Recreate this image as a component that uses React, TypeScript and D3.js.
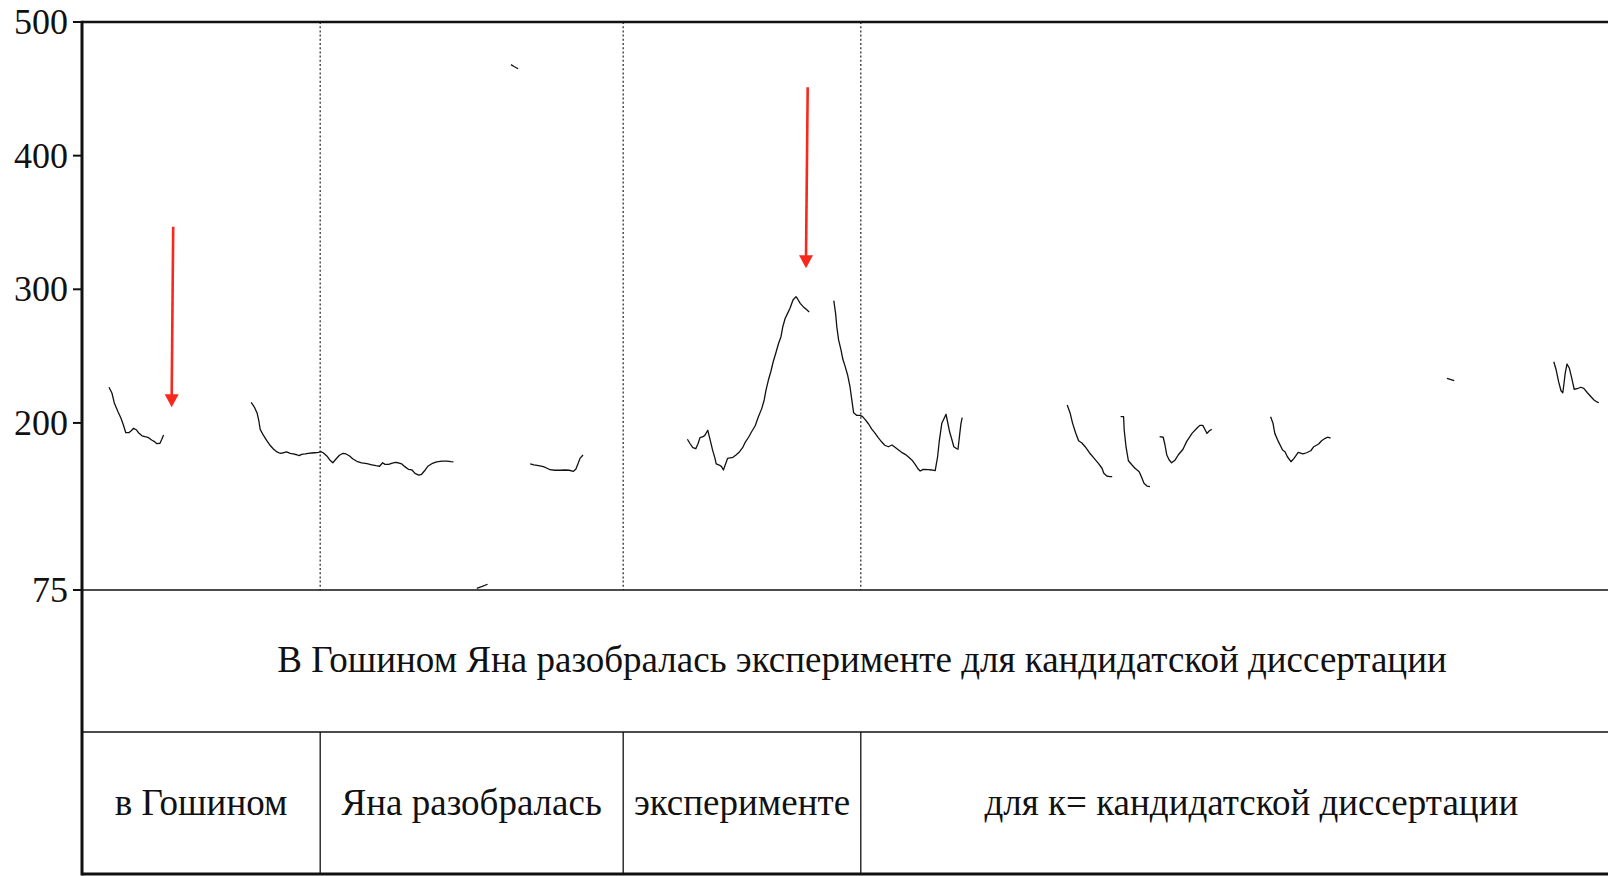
import React from "react";
import * as d3 from "d3";

// ---------- data ----------
const yTicks = [75, 200, 300, 400, 500];
const timeDomain = [0, 2.6]; // seconds
const wordBounds = [0, 0.397, 0.902, 1.298, 2.6];
const words = ["в Гошином", "Яна разобралась", "эксперименте", "для к= кандидатской диссертации"];
const sentence = "В Гошином Яна разобралась эксперименте для кандидатской диссертации";

type P = [number, number];
// pitch contours: [time (s), F0 (Hz)]
const contour1: P[] = [
  [0.045, 226.7], [0.05, 222.2], [0.054, 214.7], [0.06, 208.4], [0.065, 203.5], [0.069, 198.5],
  [0.073, 192.7], [0.078, 192.7], [0.082, 194.2], [0.086, 196.0], [0.091, 194.7], [0.095, 192.2],
  [0.1, 190.4], [0.105, 189.7], [0.111, 189.0], [0.116, 187.2], [0.121, 186.0], [0.125, 184.5],
  [0.13, 184.8], [0.133, 187.8], [0.136, 191.0],
];
const contour2: P[] = [
  [0.282, 215.4], [0.287, 212.1], [0.292, 207.2], [0.295, 200.9], [0.297, 195.2], [0.302, 191.0],
  [0.308, 186.7], [0.313, 183.5], [0.319, 180.5], [0.325, 178.3], [0.33, 177.3], [0.336, 177.7],
  [0.341, 178.3], [0.347, 177.3], [0.352, 176.8], [0.358, 176.2], [0.362, 175.5], [0.366, 176.5],
  [0.372, 176.8], [0.377, 177.3], [0.383, 177.5], [0.388, 177.7], [0.394, 178.0], [0.398, 178.5],
  [0.402, 177.7], [0.408, 175.3], [0.413, 172.3], [0.418, 170.2], [0.423, 172.8], [0.429, 175.8],
  [0.435, 177.3], [0.44, 176.8], [0.446, 175.3], [0.451, 173.2], [0.458, 171.3], [0.466, 170.2],
  [0.475, 169.5], [0.483, 168.7], [0.49, 168.0], [0.496, 167.6], [0.501, 170.2], [0.505, 169.0],
  [0.511, 169.0], [0.516, 169.8], [0.522, 170.5], [0.527, 170.2], [0.533, 169.3], [0.538, 167.3],
  [0.544, 165.3], [0.55, 164.8], [0.555, 162.3], [0.561, 161.0], [0.566, 161.6], [0.572, 164.8],
  [0.577, 167.8], [0.583, 169.5], [0.591, 170.8], [0.6, 171.5], [0.608, 171.5], [0.615, 171.0],
  [0.619, 170.8],
];
const contour3: P[] = [
  [0.658, 76.3], [0.666, 77.5], [0.676, 79.3],
];
const contour4: P[] = [
  [0.715, 468.1], [0.72, 466.7], [0.727, 465.0],
];
const contour5: P[] = [
  [0.747, 169.3], [0.753, 168.7], [0.761, 168.0], [0.769, 167.3], [0.775, 166.1], [0.78, 165.0],
  [0.788, 164.6], [0.797, 164.6], [0.805, 164.8], [0.812, 164.6], [0.819, 163.8], [0.823, 165.3],
  [0.827, 169.8], [0.83, 173.5], [0.835, 176.0],
];
const contour6: P[] = [
  [1.009, 187.8], [1.013, 184.8], [1.018, 181.5], [1.023, 180.7], [1.027, 184.8], [1.03, 189.0],
  [1.035, 189.7], [1.038, 190.7], [1.043, 194.5], [1.047, 187.2], [1.051, 179.7], [1.055, 173.5],
  [1.057, 169.3], [1.062, 168.5], [1.066, 167.3], [1.069, 164.8], [1.072, 168.5], [1.076, 173.5],
  [1.08, 173.8], [1.085, 174.3], [1.09, 176.0], [1.096, 178.5], [1.101, 181.5], [1.105, 185.2],
  [1.111, 189.3], [1.116, 193.4], [1.122, 197.9], [1.127, 204.2], [1.133, 210.9], [1.137, 217.2],
  [1.14, 224.6], [1.144, 232.1], [1.148, 238.3], [1.152, 245.8], [1.157, 253.3], [1.161, 259.6],
  [1.165, 264.5], [1.168, 272.0], [1.172, 278.3], [1.176, 282.0], [1.18, 285.8], [1.185, 292.0],
  [1.19, 294.5], [1.192, 293.3], [1.197, 289.5], [1.202, 287.0], [1.207, 285.0], [1.212, 283.0],
];
const contour7: P[] = [
  [1.253, 291.5], [1.256, 282.0], [1.258, 272.0], [1.261, 262.1], [1.265, 254.6], [1.268, 247.8],
  [1.272, 242.1], [1.276, 235.9], [1.28, 227.1], [1.283, 217.2], [1.286, 207.7], [1.291, 205.7],
  [1.297, 205.7], [1.301, 204.7], [1.305, 202.7], [1.311, 199.2], [1.316, 195.5], [1.322, 192.2],
  [1.327, 189.0], [1.333, 185.7], [1.338, 183.3], [1.344, 182.2], [1.35, 183.5], [1.355, 181.8],
  [1.361, 179.7], [1.366, 178.0], [1.372, 176.5], [1.377, 174.7], [1.383, 172.3], [1.388, 169.3],
  [1.394, 165.3], [1.397, 164.0], [1.402, 165.3], [1.411, 165.0], [1.416, 164.8], [1.422, 164.3],
  [1.426, 174.7], [1.429, 187.2], [1.433, 199.7], [1.437, 203.5], [1.44, 206.5], [1.442, 202.2],
  [1.446, 193.4], [1.45, 187.2], [1.453, 182.2], [1.458, 180.7], [1.46, 180.3], [1.463, 192.2],
  [1.465, 199.7], [1.467, 203.9],
];
const contour8: P[] = [
  [1.642, 213.4], [1.647, 207.2], [1.651, 199.7], [1.656, 192.7], [1.661, 186.7], [1.666, 185.2],
  [1.672, 182.2], [1.679, 177.7], [1.687, 173.5], [1.694, 169.8], [1.7, 166.1], [1.703, 162.3],
  [1.708, 160.3], [1.713, 159.8], [1.717, 159.8],
];
const contour9: P[] = [
  [1.731, 204.7], [1.736, 204.7], [1.737, 194.7], [1.74, 182.2], [1.744, 171.7], [1.75, 168.5],
  [1.755, 166.1], [1.762, 163.5], [1.766, 159.3], [1.77, 154.8], [1.775, 152.8], [1.78, 152.3],
];
const contour10: P[] = [
  [1.796, 189.7], [1.802, 189.3], [1.805, 183.5], [1.808, 176.0], [1.812, 172.3], [1.816, 170.2],
  [1.822, 172.3], [1.827, 176.0], [1.835, 180.3], [1.841, 186.0], [1.85, 192.2], [1.858, 196.0],
  [1.863, 198.2], [1.868, 198.2], [1.872, 194.7], [1.875, 192.2], [1.879, 194.2], [1.883, 195.2],
];
const contour11: P[] = [
  [1.981, 204.7], [1.985, 199.7], [1.988, 192.2], [1.994, 186.0], [2.001, 179.7], [2.005, 178.5],
  [2.009, 174.7], [2.015, 171.0], [2.02, 173.5], [2.027, 178.0], [2.035, 176.8], [2.041, 177.7],
  [2.048, 179.2], [2.053, 182.2], [2.061, 184.2], [2.066, 186.7], [2.072, 188.5], [2.076, 189.3],
  [2.081, 188.7],
];
const contour12: P[] = [
  [2.275, 233.4], [2.287, 231.6],
];
const contour13: P[] = [
  [2.453, 245.8], [2.457, 239.6], [2.461, 230.9], [2.465, 224.1], [2.468, 222.6], [2.47, 229.7],
  [2.472, 237.1], [2.475, 244.1], [2.479, 240.9], [2.483, 233.4], [2.487, 225.2], [2.492, 225.6],
  [2.498, 226.7], [2.503, 225.9], [2.509, 222.6], [2.515, 219.6], [2.52, 217.2], [2.525, 215.7],
  [2.528, 215.1],
];
const contours = [
  contour1, contour2, contour3, contour4, contour5, contour6, contour7,
  contour8, contour9, contour10, contour11, contour12, contour13,
];

// red arrows: [t start, Hz start], [t tip, Hz tip]
const arrowStarts: P[] = [[0.152, 346.8], [1.2095, 451.1]];
const arrowTips: P[] = [[0.1495, 211.7], [1.2067, 315.7]];

// ---------- layout ----------
const W = 1608;
const H = 876;
const left = 82;
const top = 22;
const plotBottom = 590;
const tierH = 142;
const FONT = "'Liberation Serif', 'Times New Roman', Times, serif";
const RED = "#f8281c";

export default function App() {
  const x = d3.scaleLinear().domain(timeDomain).range([left, left + 1560]);
  const y = d3.scaleLinear().domain([75, 500]).range([plotBottom, top]);
  const line = d3
    .line<P>()
    .x((d) => x(d[0]))
    .y((d) => y(d[1]));

  const x0 = x(timeDomain[0]);
  const x1 = x(timeDomain[1]);
  const tier1Top = y(75);
  const tier2Top = tier1Top + tierH;
  const tier2Bottom = tier2Top + tierH;

  return (
    <svg
      width={W}
      height={H}
      style={{ position: "absolute", left: 0, top: 0, display: "block", background: "#fff" }}
      fontFamily={FONT}
    >
      <rect x={0} y={0} width={W} height={H} fill="#fff" />

      {/* dotted word boundaries in the pitch area */}
      {wordBounds.slice(1, -1).map((b, i) => (
        <line
          key={"d" + i}
          x1={x(b)}
          x2={x(b)}
          y1={y(500)}
          y2={y(75)}
          stroke="#333"
          strokeWidth={1.3}
          strokeDasharray="2 2.2"
        />
      ))}

      {/* pitch contours */}
      {contours.map((c, i) => (
        <path key={"c" + i} d={line(c) || ""} fill="none" stroke="#111" strokeWidth={1.3} strokeLinejoin="round" />
      ))}

      {/* red arrows */}
      {arrowStarts.map((s, i) => {
        const sx = x(s[0]);
        const sy = y(s[1]);
        const tx = x(arrowTips[i][0]);
        const ty = y(arrowTips[i][1]);
        const headH = 13;
        const headW = 7;
        return (
          <g key={"a" + i}>
            <line x1={sx} y1={sy} x2={tx} y2={ty - headH + 1} stroke={RED} strokeWidth={2.6} />
            <path
              d={`M${tx - headW},${ty - headH} L${tx + headW},${ty - headH} L${tx},${ty} Z`}
              fill={RED}
            />
          </g>
        );
      })}

      {/* frame */}
      <line x1={x0} x2={x1} y1={y(500)} y2={y(500)} stroke="#111" strokeWidth={2.5} />
      <line x1={x0} x2={x1} y1={tier1Top} y2={tier1Top} stroke="#111" strokeWidth={1.5} />
      <line x1={x0} x2={x1} y1={tier2Top} y2={tier2Top} stroke="#111" strokeWidth={1.5} />
      <line x1={x0} x2={x1} y1={tier2Bottom} y2={tier2Bottom} stroke="#111" strokeWidth={3} />
      <line x1={x0} x2={x0} y1={y(500) - 1.2} y2={tier2Bottom + 1.5} stroke="#111" strokeWidth={3} />

      {/* y ticks */}
      {yTicks.map((t) => (
        <g key={"t" + t}>
          <line x1={x0 - 9} x2={x0} y1={y(t)} y2={y(t)} stroke="#111" strokeWidth={2} />
          <text x={x0 - 14} y={y(t) + 12} textAnchor="end" fontSize={36} fill="#111">
            {t}
          </text>
        </g>
      ))}

      {/* tier 1: sentence */}
      <text
        x={(x0 + x1) / 2}
        y={tier1Top + tierH / 2 + 11}
        textAnchor="middle"
        fontSize={37}
        fill="#111"
      >
        {sentence}
      </text>

      {/* tier 2: words */}
      {wordBounds.slice(1, -1).map((b, i) => (
        <line key={"w" + i} x1={x(b)} x2={x(b)} y1={tier2Top} y2={tier2Bottom} stroke="#111" strokeWidth={1.3} />
      ))}
      {words.map((w, i) => (
        <text
          key={"wt" + i}
          x={(x(wordBounds[i]) + x(wordBounds[i + 1])) / 2}
          y={tier2Top + tierH / 2 + 12}
          textAnchor="middle"
          fontSize={37}
          fill="#111"
        >
          {w}
        </text>
      ))}
    </svg>
  );
}
